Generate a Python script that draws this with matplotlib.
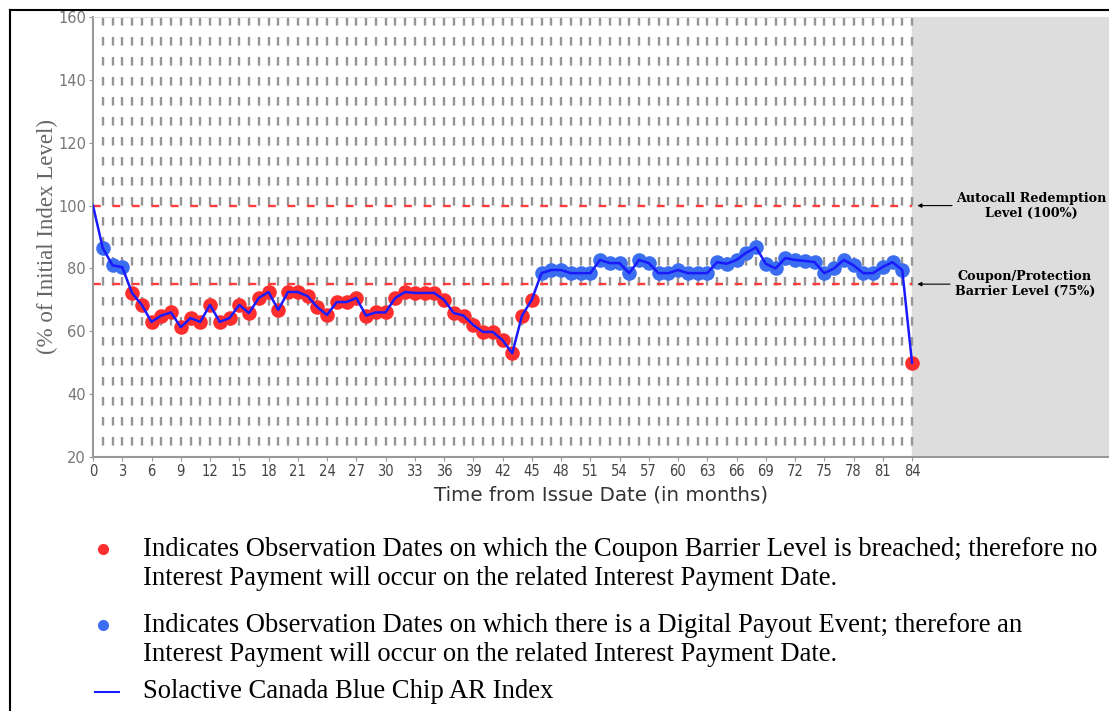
import numpy as np
import matplotlib.pyplot as plt
from matplotlib.lines import Line2D

plt.rcParams['lines.scale_dashes'] = False

# Chart data
months = list(range(85))
index_level = [100, 86.5, 81, 80.4, 72.2, 68.4, 63, 65, 66, 61.3,
               64.2, 63, 68.4, 63, 64.2, 68.4, 65.8, 70.6, 72.5, 66.8,
               72.5, 72.5, 71.2, 67.7, 65.2, 69.3, 69.3, 70.6, 65, 66,
               66, 70.6, 72.5, 72.2, 72.2, 72.2, 70, 65.8, 65, 62,
               59.8, 59.8, 57.2, 53, 65, 70, 78.5, 79.5, 79.5, 78.5,
               78.5, 78.5, 82.7, 81.7, 81.7, 78.5, 82.7, 81.7, 78.5, 78.5,
               79.5, 78.5, 78.5, 78.5, 82, 81.5, 82.7, 85, 86.7, 81.5,
               80, 83.3, 82.7, 82.4, 82, 78.5, 80, 82.7, 81, 78.5,
               78.5, 80.5, 82, 79.5, 50]
autocall_level = 100
barrier_level = 75
maturity = 84
x_ticks = list(range(0, 85, 3))
y_ticks = list(range(20, 161, 20))

legend_lines = [
    "Indicates Observation Dates on which the Coupon Barrier Level is breached; therefore no\n"
    "Interest Payment will occur on the related Interest Payment Date.",
    "Indicates Observation Dates on which there is a Digital Payout Event; therefore an\n"
    "Interest Payment will occur on the related Interest Payment Date.",
    "Solactive Canada Blue Chip AR Index",
]

W, H = 1109, 711
px = 9.75  # pixels per month
fig = plt.figure(figsize=(W / 100, H / 100), dpi=100)
ax = fig.add_axes([93 / W, 1 - 457 / H, (W - 93) / W, 440 / H])

x_right = (W - 93) / px
ax.set_xlim(0, x_right)
ax.set_ylim(20, 160)

# shaded area after maturity
ax.axvspan(maturity, x_right, color='#dddddd', zorder=0)

# monthly dashed grid
for m in months[1:]:
    ax.plot([m, m], [160, 20], color='#959595', lw=1.7, dashes=(6.2, 8.2), zorder=1)

# level lines
for lvl in (autocall_level, barrier_level):
    ax.plot([0, maturity], [lvl, lvl], color='#ff3b3b', lw=1.7, dashes=(5.6, 8.4), zorder=2)

# observation markers
obs_m = np.array(months[1:])
obs_v = np.array(index_level[1:])
below = obs_v < barrier_level
ax.plot(obs_m[below], obs_v[below], 'o', color='#ff2e2e', ms=10.5, mec='none', zorder=3)
ax.plot(obs_m[~below], obs_v[~below], 'o', color='#3a6df0', ms=10.5, mec='none', zorder=3)

ax.plot(months, index_level, color='#1a1aff', lw=1.8, zorder=4)

ax.set_xticks(x_ticks)
ax.set_xticklabels([str(t) for t in x_ticks], fontsize=10.5, color='#444444',
                   fontstretch='condensed')
ax.set_yticks(y_ticks)
ax.set_yticklabels([str(t) for t in y_ticks], fontsize=10.5, color='#777777')
ax.tick_params(length=3, color='#999999', pad=2)

for s in ('left', 'bottom'):
    ax.spines[s].set_color('#999999')
    ax.spines[s].set_linewidth(1.5)
ax.spines['top'].set_color('#dddddd')
ax.spines['right'].set_visible(False)

ax.set_xlabel("Time from Issue Date (in months)", fontsize=14.3, color='#333333', labelpad=5)
ax.set_ylabel("(% of Initial Index Level)", fontsize=16.5, color='#666666',
              family='Liberation Serif', labelpad=0)

# level annotations
ann_font = dict(ha='center', va='center', fontsize=9.2, fontweight='bold', family='DejaVu Serif')
ax.text((1031 - 93) / px, autocall_level, "Autocall Redemption\nLevel (100%)", **ann_font)
ax.text((1025 - 93) / px, barrier_level, "Coupon/Protection\nBarrier Level (75%)", **ann_font)
for lvl, x_end in ((autocall_level, 952), (barrier_level, 950)):
    ax.annotate("", xy=(maturity + 0.55, lvl), xytext=((x_end - 93) / px, lvl),
                arrowprops=dict(arrowstyle='-|>', color='black', lw=0.8, mutation_scale=6,
                                shrinkA=0, shrinkB=0))

# legend below the chart
serif = 'Liberation Serif'
fig.text(143 / W, 1 - 564 / H, legend_lines[0], fontsize=19.2, family=serif,
         va='center', linespacing=1.2)
fig.text(143 / W, 1 - 640 / H, legend_lines[1], fontsize=19.2, family=serif,
         va='center', linespacing=1.2)
fig.text(143 / W, 1 - 692 / H, legend_lines[2], fontsize=19.2, family=serif, va='center')
fig.add_artist(Line2D([103 / W], [1 - 549 / H], marker='o', ms=8, color='#ff2e2e', mec='none'))
fig.add_artist(Line2D([103 / W], [1 - 625 / H], marker='o', ms=8, color='#3a6df0', mec='none'))
fig.add_artist(Line2D([95 / W, 119 / W], [1 - 692 / H] * 2, color='#1a1aff', lw=1.5))

# page frame
fig.add_artist(Line2D([10 / W, 1], [1 - 10 / H] * 2, color='black', lw=1.5))
fig.add_artist(Line2D([10 / W] * 2, [0, 1 - 10 / H], color='black', lw=1.5))

fig.savefig("out.png", dpi=100)
